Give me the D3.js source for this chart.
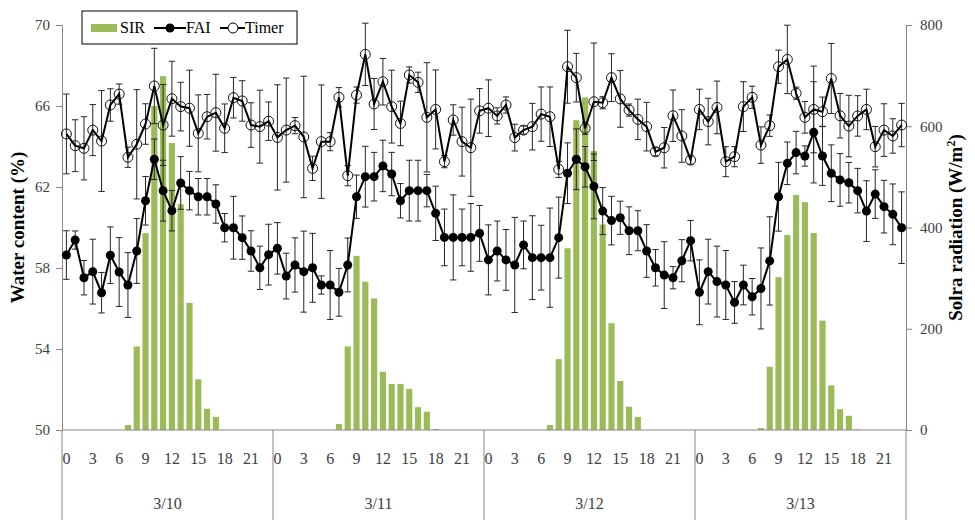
<!DOCTYPE html>
<html>
<head>
<meta charset="utf-8">
<script src="https://cdn.jsdelivr.net/npm/d3@7"></script>
<style>
  body { margin: 0; background: #fff; }
  svg { display: block; }
  svg text { font-family: "Liberation Serif", "Times New Roman", serif; }
</style>
</head>
<body>
<svg id="chart" width="975" height="520"></svg>
<script>
// Days and hours on the category axis
const days = ["3/10", "3/11", "3/12", "3/13"];
const hourTicks = [0, 3, 6, 9, 12, 15, 18, 21];
const hoursPerDay = 24;

// Solar irradiance, W/m² (one value per hour, four days)
const sir = [
  0,0,0,0,0,0,0,10,165,389,640,699,567,446,251,100,42,26,0,0,0,0,0,0,
  0,0,0,0,0,0,0,12,165,344,293,260,115,91,91,81,45,36,2,0,0,0,0,0,
  0,0,0,0,0,0,0,10,140,359,612,657,551,406,211,97,46,26,0,0,0,0,0,0,
  0,0,0,0,0,0,0,4,125,302,385,464,450,389,216,88,41,28,1,0,0,0,0,0
];

// Water content (%) under FAI irrigation, with standard deviation
const fai = [
  58.64,59.38,57.52,57.82,56.78,58.63,57.80,57.16,58.84,61.32,63.37,61.82,60.83,62.20,61.82,61.52,61.52,61.16,59.99,59.99,59.50,58.84,58.01,58.66,
  58.97,57.60,58.15,57.82,58.01,57.16,57.16,56.80,58.15,61.52,62.51,62.51,63.04,62.64,61.32,61.82,61.82,61.82,60.70,59.51,59.51,59.51,59.51,59.71,
  58.40,58.84,58.40,58.15,59.14,58.51,58.51,58.51,59.50,62.68,63.37,63.00,62.03,60.81,60.34,60.48,59.84,59.84,58.84,58.01,57.65,57.52,58.36,59.35,
  56.80,57.82,57.33,57.16,56.30,57.16,56.58,56.99,58.35,61.52,63.17,63.70,63.53,64.70,63.53,62.68,62.35,62.21,61.82,60.81,61.65,61.03,60.65,59.99
];
const faiErr = [
  1.2,0.45,0.85,1.6,1.0,1.4,1.7,1.6,1.6,1.2,1.0,1.5,1.0,1.3,0.95,0.9,0.9,0.95,0.7,1.55,1.07,1.0,1.07,1.5,
  1.27,1.13,1.34,2.0,1.7,0.45,1.7,1.18,1.33,1.07,1.5,1.2,1.27,1.07,0.85,1.5,1.5,0.8,1.34,1.4,2.1,1.4,1.67,1.38,
  1.73,1.48,1.5,2.35,1.18,2.07,1.6,2.45,2.0,1.5,1.5,1.0,1.6,1.16,1.2,0.82,1.18,0.99,1.3,0.9,1.65,0.55,1.04,1.0,
  1.6,1.6,1.75,1.7,1.03,0.98,0.9,2.0,2.18,1.7,1.05,1.05,0.5,2.5,1.45,1.4,1.3,1.0,1.1,1.5,1.2,1.3,1.5,1.77
];

// Water content (%) under timer irrigation, with standard deviation
const timer = [
  64.62,64.04,63.91,64.81,64.27,66.05,66.59,63.47,64.11,65.11,66.99,65.06,66.36,65.97,65.89,64.65,65.47,65.67,64.90,66.41,66.25,65.06,64.98,65.25,
  64.45,64.81,65.03,64.47,62.92,64.24,64.24,66.43,62.56,66.54,68.55,66.10,67.20,65.97,65.14,67.53,67.17,65.44,65.83,63.25,65.31,64.24,63.94,65.76,
  65.89,65.51,66.05,64.44,64.81,64.98,65.60,65.47,62.87,67.94,67.40,64.90,66.21,66.16,67.40,66.35,65.80,65.34,64.98,63.74,63.94,65.52,64.52,63.33,
  65.83,65.23,65.93,63.25,63.50,65.97,66.43,64.07,65.03,67.94,68.30,66.63,65.44,65.83,65.72,67.36,65.52,65.01,65.51,65.83,63.99,64.81,64.52,65.06
];
const timerErr = [
  1.97,1.28,1.56,1.26,2.49,0.8,0.5,0.5,2.7,1.0,1.86,2.0,1.85,1.2,1.88,1.9,1.1,1.9,1.2,1.0,1.0,1.1,1.8,0.95,
  2.6,2.57,0.4,3.0,0.6,2.8,0.45,0.48,0.5,0.4,1.54,1.26,1.15,1.8,1.1,0.4,0.5,2.7,1.95,0.3,0.75,1.7,2.4,1.1,
  1.4,0.4,0.4,0.66,0.2,1.15,1.34,1.47,0.4,1.8,1.2,0.3,2.9,0.3,1.18,1.4,0.3,1.0,1.2,0.2,1.0,1.27,1.3,0.2,
  1.0,1.15,1.3,0.74,0.5,1.23,0.55,0.9,0.53,0.82,1.69,0.3,0.78,2.14,0.72,1.73,1.1,1.52,1.0,1.0,1.0,1.3,0.85,1.07
];

const waterTicks = [50, 54, 58, 62, 66, 70];
const radTicks = [0, 200, 400, 600, 800];

const svg = d3.select("#chart");
const font = "Liberation Serif, Times New Roman, serif";
const plot = { left: 62, right: 906, top: 25, bottom: 430 };
const axisColor = "#868686";
const labelColor = "#404040";

const idx = d3.range(days.length * hoursPerDay);
const x = d3.scaleBand().domain(idx).range([plot.left, plot.right]).padding(0);
const cx = i => x(i) + x.bandwidth() / 2;
const yW = d3.scaleLinear().domain([50, 70]).range([plot.bottom, plot.top]);
const yR = d3.scaleLinear().domain([0, 800]).range([plot.bottom, plot.top]);

// SIR bars
const barW = x.bandwidth() * 0.7;
svg.append("g").selectAll("rect").data(idx.filter(i => sir[i] > 0)).join("rect")
  .attr("x", i => cx(i) - barW / 2)
  .attr("y", i => yR(sir[i]))
  .attr("width", barW)
  .attr("height", i => yR(0) - yR(sir[i]))
  .attr("fill", "#9bbb59");

// Left axis
const gL = svg.append("g").attr("transform", `translate(${plot.left},0)`)
  .call(d3.axisLeft(yW).tickValues(waterTicks).tickSize(6).tickPadding(6));
gL.attr("font-family", font);
gL.select(".domain").attr("stroke", axisColor);
gL.selectAll(".tick line").attr("stroke", axisColor);
gL.selectAll(".tick text").attr("fill", labelColor).style("font-size", "15px");

// Right axis
const gR = svg.append("g").attr("transform", `translate(${plot.right},0)`)
  .call(d3.axisRight(yR).tickValues(radTicks).tickSize(6).tickPadding(8));
gR.attr("font-family", font);
gR.select(".domain").attr("stroke", axisColor);
gR.selectAll(".tick line").attr("stroke", axisColor);
gR.selectAll(".tick text").attr("fill", labelColor).style("font-size", "15px");

// Bottom axis: baseline, hour labels, day separators and day labels
svg.append("line")
  .attr("x1", plot.left).attr("x2", plot.right)
  .attr("y1", plot.bottom).attr("y2", plot.bottom)
  .attr("stroke", axisColor);
const dayBounds = d3.range(days.length + 1).map(d =>
  d < days.length ? x(d * hoursPerDay) : plot.right);
svg.append("g").selectAll("line").data(dayBounds).join("line")
  .attr("x1", d => d).attr("x2", d => d)
  .attr("y1", plot.bottom).attr("y2", 520)
  .attr("stroke", axisColor);
const hourLabels = [];
days.forEach((d, di) => hourTicks.forEach(h => hourLabels.push({ i: di * hoursPerDay + h, h })));
svg.append("g").selectAll("text").data(hourLabels).join("text")
  .attr("x", d => cx(d.i)).attr("y", 464)
  .attr("text-anchor", "middle")
  .attr("fill", labelColor).style("font-size", "16px")
  .text(d => d.h);
svg.append("g").selectAll("text").data(days).join("text")
  .attr("x", (d, di) => (dayBounds[di] + dayBounds[di + 1]) / 2).attr("y", 509)
  .attr("text-anchor", "middle")
  .attr("fill", labelColor).style("font-size", "16px")
  .text(d => d);

// Error bars
function errorBars(values, errs) {
  const g = svg.append("g").attr("stroke", "#262626").attr("stroke-width", 1);
  const cap = 3.2;
  idx.forEach(i => {
    const top = yW(values[i] + errs[i]), bot = yW(values[i] - errs[i]);
    g.append("line").attr("x1", cx(i)).attr("x2", cx(i)).attr("y1", top).attr("y2", bot);
    g.append("line").attr("x1", cx(i) - cap).attr("x2", cx(i) + cap).attr("y1", top).attr("y2", top);
    g.append("line").attr("x1", cx(i) - cap).attr("x2", cx(i) + cap).attr("y1", bot).attr("y2", bot);
  });
}
errorBars(timer, timerErr);
errorBars(fai, faiErr);

const line = vals => d3.line().x(i => cx(i)).y(i => yW(vals[i]))(idx);

// Timer series: line with open circles
svg.append("path").attr("d", line(timer))
  .attr("fill", "none").attr("stroke", "#000").attr("stroke-width", 2);
svg.append("g").selectAll("circle").data(idx).join("circle")
  .attr("cx", cx).attr("cy", i => yW(timer[i])).attr("r", 5)
  .attr("fill", "none").attr("stroke", "#111").attr("stroke-width", 1);

// FAI series: line with filled dots
svg.append("path").attr("d", line(fai))
  .attr("fill", "none").attr("stroke", "#000").attr("stroke-width", 2);
svg.append("g").selectAll("circle").data(idx).join("circle")
  .attr("cx", cx).attr("cy", i => yW(fai[i])).attr("r", 4.5)
  .attr("fill", "#000");

// Axis titles
svg.append("text")
  .attr("transform", `translate(24,${(plot.top + plot.bottom) / 2}) rotate(-90)`)
  .attr("text-anchor", "middle")
  .style("font-size", "19px").style("font-weight", "bold")
  .text("Water content (%)");
const rt = svg.append("text")
  .attr("transform", `translate(962,${(plot.top + plot.bottom) / 2}) rotate(-90)`)
  .attr("text-anchor", "middle")
  .style("font-size", "19px").style("font-weight", "bold");
rt.append("tspan").text("Solra  radiation (W/m");
rt.append("tspan").attr("dy", -7).style("font-size", "12px").text("2");
rt.append("tspan").attr("dy", 7).text(")");

// Legend
const lg = svg.append("g");
lg.append("rect").attr("x", 82).attr("y", 11).attr("width", 215).attr("height", 33)
  .attr("fill", "#fff").attr("stroke", "#000").attr("stroke-width", 1);
lg.append("rect").attr("x", 91).attr("y", 24).attr("width", 26).attr("height", 8).attr("fill", "#9bbb59");
lg.append("text").attr("x", 120).attr("y", 33).style("font-size", "16px").text("SIR");
lg.append("line").attr("x1", 154).attr("x2", 186).attr("y1", 28).attr("y2", 28)
  .attr("stroke", "#000").attr("stroke-width", 2);
lg.append("circle").attr("cx", 170).attr("cy", 28).attr("r", 4.5).attr("fill", "#000");
lg.append("text").attr("x", 186).attr("y", 33).style("font-size", "16px").text("FAI");
lg.append("line").attr("x1", 220).attr("x2", 245).attr("y1", 28).attr("y2", 28)
  .attr("stroke", "#000").attr("stroke-width", 2);
lg.append("circle").attr("cx", 233).attr("cy", 28).attr("r", 5)
  .attr("fill", "#fff").attr("stroke", "#000").attr("stroke-width", 1);
lg.append("text").attr("x", 245).attr("y", 33).style("font-size", "16px").text("Timer");
</script>
</body>
</html>
